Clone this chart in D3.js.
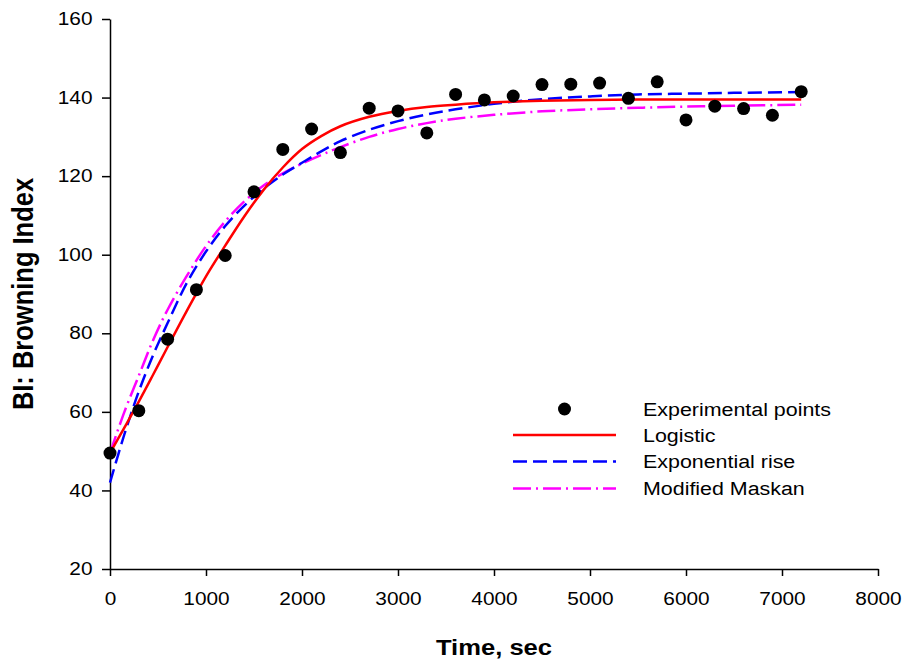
<!DOCTYPE html>
<html>
<head>
<meta charset="utf-8">
<script src="https://cdn.jsdelivr.net/npm/d3@7"></script>
<style>
  html, body { margin: 0; padding: 0; background: #fff; }
  svg { display: block; font-family: Arial, "Liberation Sans", sans-serif; }
</style>
</head>
<body>
<svg id="chart" width="903" height="659"></svg>
<script>
// Measured browning index
const pointTimes = [0, 300, 600, 900, 1200, 1500, 1800, 2100, 2400, 2700, 3000, 3300,
  3600, 3900, 4200, 4500, 4800, 5100, 5400, 5700, 6000, 6300, 6600, 6900, 7200];
const pointValues = [49.5, 60.3, 78.5, 91.1, 99.8, 116.0, 126.8, 132.0, 126.0, 137.3, 136.6, 131.0,
  140.8, 139.4, 140.4, 143.3, 143.4, 143.7, 139.8, 144.0, 134.3, 137.8, 137.2, 135.5, 141.5];

// Fitted model curves, sampled along time
const fitTimes = [0, 150, 300, 450, 600, 800, 1000, 1200, 1400, 1600, 1800, 2000, 2200,
  2400, 2700, 3000, 3300, 3600, 4000, 4500, 5000, 5500, 6000, 6500, 7200];
const logisticValues = [49.5, 56.0, 62.6, 69.5, 76.5, 85.7, 94.5, 102.3, 109.8, 116.5, 122.2, 126.9, 130.2,
  132.7, 135.1, 136.6, 137.6, 138.2, 138.8, 139.2, 139.4, 139.5, 139.5, 139.5, 139.5];
const expRiseValues = [42.0, 54.3, 65.2, 74.5, 82.6, 92.8, 100.8, 107.3, 112.5, 116.8, 120.4, 123.4, 126.3,
  128.9, 131.8, 134.0, 135.7, 137.0, 138.4, 139.6, 140.3, 140.8, 141.0, 141.2, 141.4];
const maskanValues = [49.5, 60.0, 69.2, 78.3, 86.0, 94.6, 102.2, 108.5, 113.6, 117.6, 120.7, 123.2, 125.4,
  127.4, 130.0, 132.0, 133.5, 134.6, 135.6, 136.5, 137.0, 137.4, 137.7, 137.9, 138.2];

const xTicks = [0, 1000, 2000, 3000, 4000, 5000, 6000, 7000, 8000];
const yTicks = [20, 40, 60, 80, 100, 120, 140, 160];

const seriesNames = ["Experimental points", "Logistic", "Exponential rise", "Modified Maskan"];

const svg = d3.select("#chart");
const plotLeft = 110, plotRight = 878, plotTop = 19, plotBottom = 569;
const stretch = 1.19; // horizontal text stretch

const x = d3.scaleLinear().domain([0, 8000]).range([plotLeft, plotRight]);
const y = d3.scaleLinear().domain([20, 160]).range([plotBottom, plotTop]);

// Axes
const xAxis = svg.append("g")
  .attr("transform", `translate(0,${plotBottom})`)
  .call(d3.axisBottom(x).tickValues(xTicks).tickFormat(d3.format("d"))
    .tickSize(7).tickPadding(17).tickSizeOuter(0));
const yAxis = svg.append("g")
  .attr("transform", `translate(${plotLeft},0)`)
  .call(d3.axisLeft(y).tickValues(yTicks).tickFormat(d3.format("d"))
    .tickSize(8).tickSizeOuter(0));

[xAxis, yAxis].forEach(g => {
  g.select(".domain").attr("stroke", "#000").attr("stroke-width", 1.5);
  g.selectAll(".tick line").attr("stroke", "#000").attr("stroke-width", 1.5);
  g.selectAll(".tick text")
    .attr("fill", "#000")
    .style("font-family", "Arial, 'Liberation Sans', sans-serif")
    .style("font-size", "17.5px");
});
xAxis.selectAll(".tick text").attr("transform", `scale(${stretch},1)`);
yAxis.selectAll(".tick text")
  .attr("x", 0)
  .attr("transform", `translate(-17.5,0) scale(${stretch},1)`);

// Axis titles
svg.append("text")
  .attr("transform", `translate(${(plotLeft + plotRight) / 2},655) scale(${stretch},1)`)
  .attr("text-anchor", "middle")
  .style("font-weight", "bold")
  .style("font-size", "21.5px")
  .text("Time, sec");

svg.append("text")
  .attr("transform", `translate(33,294) scale(${stretch},1) rotate(-90)`)
  .attr("text-anchor", "middle")
  .style("font-weight", "bold")
  .style("font-size", "25.5px")
  .text("BI: Browning Index");

// Fitted curves
const series = [
  { values: maskanValues, color: "#ff00ff", dash: "18,5,2,5" },
  { values: expRiseValues, color: "#0000ff", dash: "14,6" },
  { values: logisticValues, color: "#ff0000", dash: null }
];
const line = d3.line()
  .x((d, i) => x(fitTimes[i]))
  .y(d => y(d))
  .curve(d3.curveCatmullRom.alpha(0.5));

series.forEach(s => {
  svg.append("path")
    .datum(s.values)
    .attr("d", line)
    .attr("fill", "none")
    .attr("stroke", s.color)
    .attr("stroke-width", 2.5)
    .attr("stroke-dasharray", s.dash);
});

// Experimental points
svg.append("g").selectAll("circle")
  .data(pointValues)
  .join("circle")
  .attr("cx", (d, i) => x(pointTimes[i]))
  .attr("cy", d => y(d))
  .attr("r", 6.5)
  .attr("fill", "#000");

// Legend
const legend = svg.append("g");
const rowY = [409, 435, 461.5, 488.5];
legend.append("circle").attr("cx", 564.5).attr("cy", rowY[0]).attr("r", 6.5).attr("fill", "#000");
[
  { color: "#ff0000", dash: null },
  { color: "#0000ff", dash: "14,6" },
  { color: "#ff00ff", dash: "18,5,2,5" }
].forEach((s, i) => {
  legend.append("line")
    .attr("x1", 513).attr("x2", 616)
    .attr("y1", rowY[i + 1]).attr("y2", rowY[i + 1])
    .attr("stroke", s.color)
    .attr("stroke-width", 2.5)
    .attr("stroke-dasharray", s.dash);
});
seriesNames.forEach((name, i) => {
  legend.append("text")
    .attr("transform", `translate(643,${rowY[i] + 6.5}) scale(${stretch},1)`)
    .style("font-size", "18px")
    .text(name);
});
</script>
</body>
</html>
